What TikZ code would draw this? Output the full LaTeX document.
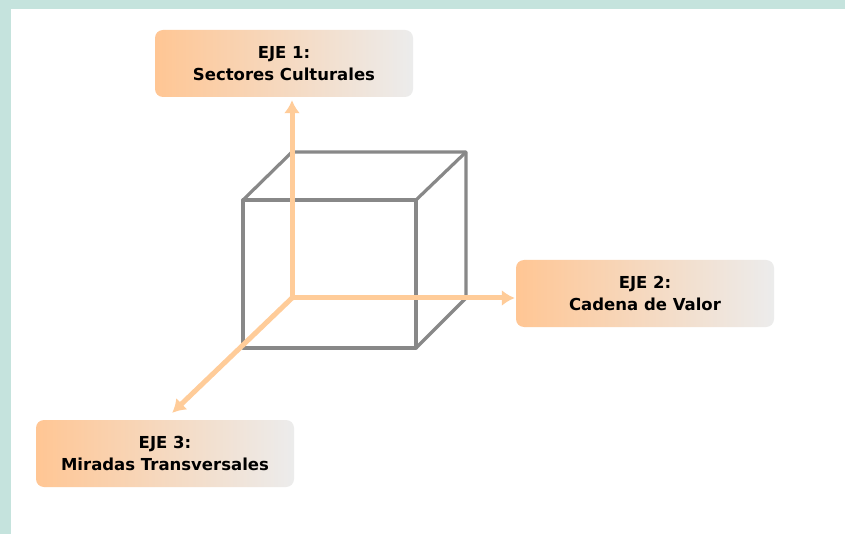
\documentclass[tikz,border=0pt]{standalone}
\usepackage{fontspec}
\setmainfont{DejaVu Sans}
\usepackage{tikz}
\usetikzlibrary{arrows.meta, positioning}
\definecolor{ejeOrange}{RGB}{255,198,148}
\definecolor{ejeGray}{RGB}{236,236,236}
\definecolor{axisOrange}{RGB}{255,204,153}
\definecolor{cubeGray}{RGB}{136,136,136}
\definecolor{frameTeal}{RGB}{197,227,221}
\tikzstyle{ejeBox} = [rectangle, rounded corners=8pt,
   left color=ejeOrange, right color=ejeGray,
   minimum width=258pt, minimum height=67pt, align=center,
   font=\bfseries\fontsize{16.5}{22}\selectfont]
\tikzstyle{ejeArrow} = [line width=5pt, axisOrange, -{Latex[length=13pt,width=16pt]}]
\tikzstyle{cubeLine} = [line width=3.2pt, cubeGray, line join=round]

\begin{document}
\begin{tikzpicture}[x=1pt, y=-1pt]
  \useasboundingbox (0,0) rectangle (845,534);
  \fill[frameTeal] (0,0) rectangle (845,534);
  \fill[white] (11,9) rectangle (845,534);

  % the three axes boxes
  \node[ejeBox] (eje1) at (284,63.5) {EJE 1:\\Sectores Culturales};
  \node[ejeBox] (eje2) at (645,293.5) {EJE 2:\\Cadena de Valor};
  \node[ejeBox] (eje3) at (165,453.5) {EJE 3:\\Miradas Transversales};

  % cube: front face, then the visible back edges
  \draw[cubeLine] (243,200) rectangle (416,348);
  \draw[cubeLine] (243,200) -- (292,152) -- (466,152) -- (466,298) -- (416,348);
  \draw[cubeLine] (416,200) -- (466,152);

  % axes from the hidden corner
  \coordinate (o) at (292,298);
  \draw[ejeArrow, shorten >=3pt] (o) -- (o |- eje1.south);
  \draw[ejeArrow, shorten >=1pt] (o) -- (o -| eje2.west);
  \draw[ejeArrow, shorten >=10pt] (o) -- (eje3.north);
\end{tikzpicture}
\end{document}
